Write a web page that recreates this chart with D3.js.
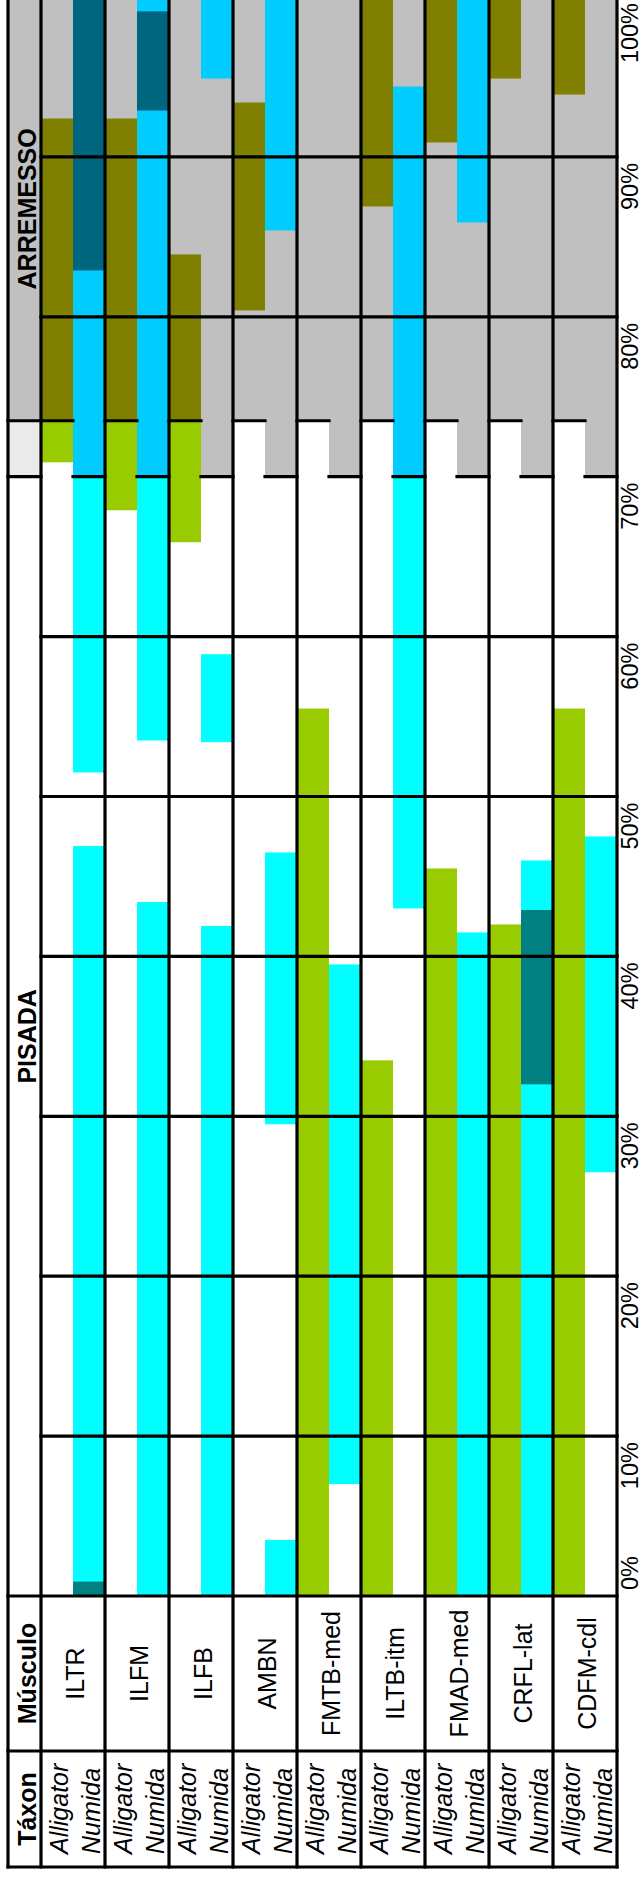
<!DOCTYPE html>
<html>
<head>
<meta charset="utf-8">
<script src="https://cdn.jsdelivr.net/npm/d3@7"></script>
<style>
  body { margin: 0; background: #fff; }
  svg { display: block; }
  text { font-family: "Liberation Sans", Arial, Helvetica, sans-serif; fill: #000; }
</style>
</head>
<body>
<svg id="chart" width="643" height="1877"></svg>
<script>
// Muscles (one column group each) and the two taxa inside every group
const muscles = ["ILTR", "ILFM", "ILFB", "AMBN", "FMTB-med", "ILTB-itm", "FMAD-med", "CRFL-lat", "CDFM-cdl"];
const taxa = ["Alligator", "Numida"];
const phaseNames = ["PISADA", "ARREMESSO"];
const percentTicks = [0, 10, 20, 30, 40, 50, 60, 70, 80, 90, 100];
const tickLabels = ["0%", "10%", "20%", "30%", "40%", "50%", "60%", "70%", "80%", "90%", "100%"];

// Swing onset (% of the stride cycle) for Alligator, Numida
const swingOnset = [73.5, 70];

// EMG bursts per muscle: [start %, end %, intensity (1 normal, 2 strong)]
const alligatorBursts = [
  [[70.9, 92.4, 1]],
  [[67.9, 92.4, 1]],
  [[65.9, 83.9, 1]],
  [[80.4, 93.4, 1]],
  [[0, 55.5, 1]],
  [[0, 33.5, 1], [86.9, 100, 1]],
  [[0, 45.5, 1], [90.9, 100, 1]],
  [[0, 42.0, 1], [94.9, 100, 1]],
  [[0, 55.5, 1], [93.9, 100, 1]]
];
const numidaBursts = [
  [[0, 46.9, 1], [0, 0.9, 2], [51.5, 100, 1], [82.9, 100, 2]],
  [[0, 43.4, 1], [53.5, 100, 1], [92.9, 99.1, 2]],
  [[0, 41.9, 1], [53.4, 58.9, 1], [94.9, 100, 1]],
  [[0, 3.5, 1], [29.5, 46.5, 1], [85.4, 100, 1]],
  [[7.0, 39.5, 1]],
  [[43.0, 94.4, 1]],
  [[0, 41.5, 1], [85.9, 100, 1]],
  [[0, 46.0, 1], [32.0, 42.9, 2]],
  [[26.5, 47.5, 1]]
];

// Palette: [taxon][phase: stance, swing][intensity - 1]
const burstColors = [
  [["#99CC00", "#99CC00"], ["#808000", "#808000"]],
  [["#00FFFF", "#008080"], ["#00CCFF", "#006680"]]
];
const swingFill = "#C0C0C0";
const transitionFill = "#EAEAEA";

// ---- layout ----
const svg = d3.select("#chart");
const tableLeft = 8, headCol = 41, tableRight = 617;
const muscleRowBottom = 1751, tableBottom = 1867;
const lineW = 3.2;

const y = d3.scaleLinear().domain([0, 100]).range([1596, -3]);
const x = d3.scaleBand().domain(muscles).range([headCol, tableRight]);
const xt = d3.scaleBand().domain(taxa).range([0, x.bandwidth()]);

const burstsByTaxon = [alligatorBursts, numidaBursts];

// one record per (muscle, taxon) column
const cols = [];
muscles.forEach((m, mi) => taxa.forEach((t, ti) => cols.push({
  muscle: m, ti, x0: x(m) + xt(t), w: xt.bandwidth(), bursts: burstsByTaxon[ti][mi]
})));

const gBg = svg.append("g");
const gBars = svg.append("g");
const gLines = svg.append("g").attr("stroke", "#000").attr("stroke-width", lineW)
  .attr("stroke-linecap", "square").attr("fill", "none");
const gText = svg.append("g");

// swing-phase background per column
gBg.selectAll("rect.swing").data(cols).join("rect")
  .attr("x", d => d.x0).attr("width", d => d.w)
  .attr("y", y(100)).attr("height", d => y(swingOnset[d.ti]) - y(100))
  .attr("fill", swingFill);

// header column phase shading
const swMin = d3.min(swingOnset), swMax = d3.max(swingOnset);
gBg.append("rect").attr("x", tableLeft).attr("width", headCol - tableLeft)
  .attr("y", y(100)).attr("height", y(swMax) - y(100)).attr("fill", swingFill);
gBg.append("rect").attr("x", tableLeft).attr("width", headCol - tableLeft)
  .attr("y", y(swMax)).attr("height", y(swMin) - y(swMax)).attr("fill", transitionFill);

// bursts, split at the swing onset so each phase gets its colour
const pieces = [];
cols.forEach(c => {
  const sw = swingOnset[c.ti];
  c.bursts.forEach(([s, e, lvl]) => {
    if (s < sw) pieces.push({ c, s, e: Math.min(e, sw), phase: 0, lvl });
    if (e > sw) pieces.push({ c, s: Math.max(s, sw), e, phase: 1, lvl });
  });
});
gBars.selectAll("rect").data(pieces).join("rect")
  .attr("x", d => d.c.x0).attr("width", d => d.c.w)
  .attr("y", d => y(d.e)).attr("height", d => y(d.s) - y(d.e))
  .attr("fill", d => burstColors[d.c.ti][d.phase][d.lvl - 1]);

// horizontal grid lines (the phase boundaries take the place of the one inside the transition)
const gridTicks = percentTicks.filter(t => t < swMin || t > swMax);
gLines.selectAll("line.grid").data(gridTicks).join("line")
  .attr("x1", d => d === 0 ? tableLeft : headCol).attr("x2", tableRight)
  .attr("y1", d => y(d)).attr("y2", d => y(d));

// swing onset boundaries in each column and in the header column
gLines.selectAll("line.phase").data(cols).join("line")
  .attr("x1", d => d.x0).attr("x2", d => d.x0 + d.w)
  .attr("y1", d => y(swingOnset[d.ti])).attr("y2", d => y(swingOnset[d.ti]));
gLines.selectAll("line.phasehead").data(swingOnset).join("line")
  .attr("x1", tableLeft).attr("x2", headCol)
  .attr("y1", d => y(d)).attr("y2", d => y(d));

// vertical lines
const vx = [tableLeft, headCol].concat(muscles.map(m => x(m) + x.bandwidth()));
gLines.selectAll("line.v").data(vx).join("line")
  .attr("x1", d => d).attr("x2", d => d)
  .attr("y1", y(100)).attr("y2", tableBottom);

// header row lines
gLines.selectAll("line.h").data([muscleRowBottom, tableBottom]).join("line")
  .attr("x1", tableLeft).attr("x2", tableRight)
  .attr("y1", d => d).attr("y2", d => d);

// rotated text helper (reads bottom to top)
function vtext(px, py, str, anchor, size, weight, style) {
  gText.append("text")
    .attr("transform", `translate(${px},${py}) rotate(-90)`)
    .attr("text-anchor", anchor)
    .attr("font-size", size)
    .attr("font-weight", weight || "normal")
    .attr("font-style", style || "normal")
    .text(str);
}

// percent labels beside the grid
const tickBase = 637.5;
percentTicks.forEach((t, i) => {
  if (t === 0) vtext(tickBase, y(t) - 6, tickLabels[i], "start", 23.5);
  else vtext(tickBase, y(t) + 6, tickLabels[i], "end", 23.5);
});

const baseOff = 11;
const headMid = (tableLeft + headCol) / 2;
// phase titles
vtext(headMid + baseOff, (y(0) + y(swMin)) / 2, phaseNames[0], "middle", 25, "bold");
vtext(headMid + baseOff, (y(swMax) + y(100)) / 2, phaseNames[1], "middle", 25, "bold");

// header row titles
vtext(headMid + baseOff, (y(0) + muscleRowBottom) / 2, "Músculo", "middle", 25, "bold");
vtext(headMid + baseOff, (muscleRowBottom + tableBottom) / 2, "Táxon", "middle", 25, "bold");

// muscle names
muscles.forEach(m => vtext(x(m) + x.bandwidth() / 2 + baseOff, (y(0) + muscleRowBottom) / 2, m, "middle", 25));

// taxon names
cols.forEach(c => vtext(c.x0 + c.w / 2 + baseOff, tableBottom - 13, taxa[c.ti], "start", 25, "normal", "italic"));
</script>
</body>
</html>
